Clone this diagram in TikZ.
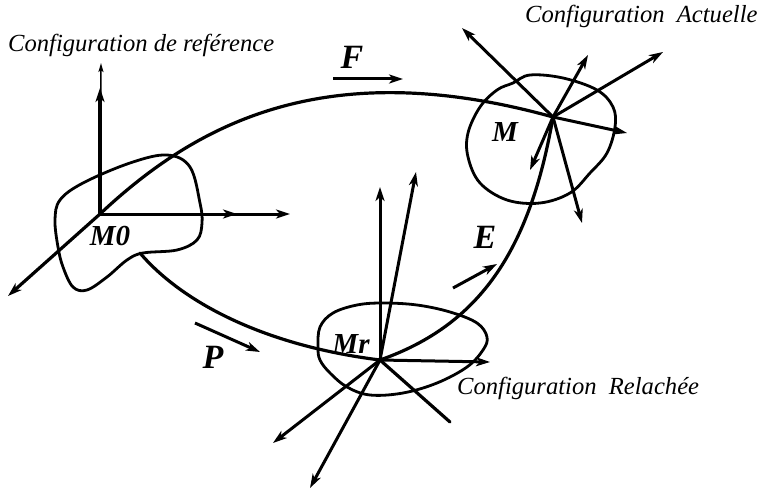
\documentclass[tikz,border=0pt]{standalone}
\usepackage{fontspec}
\setmainfont{Liberation Serif}
\usetikzlibrary{arrows.meta}
\begin{document}
\begin{tikzpicture}[x=1pt,y=-1pt,
  ln/.style={line width=3.2pt,line cap=round},
  ax/.style={line width=3pt,-{Stealth[length=14pt,width=9pt,inset=4pt]}},
  bl/.style={line width=2.8pt},
  captxt/.style={font=\fontsize{24.6}{28}\selectfont\itshape,inner sep=0pt},
  lab/.style={font=\fontsize{34}{38}\selectfont\bfseries\itshape,inner sep=0pt},
  plab/.style={font=\fontsize{29}{33}\selectfont\bfseries\itshape,inner sep=0pt}]
\useasboundingbox (0,0) rectangle (757,492);
% origins
\coordinate (O0) at (100,214);
\coordinate (Or) at (380,360);
\coordinate (O) at (553,117);
\coordinate (B0) at (140,253);
% blobs
\draw[bl] plot[smooth cycle,tension=0.6] coordinates {(143,253) (177,250) (197,240) (202,223) (200,203) (190,167) (167,155) (130,163) (83,183) (60,200) (55,220) (58,247) (63,267) (73,287) (87,290) (107,277) (127,260)};
\draw[bl] plot[smooth cycle,tension=0.6] coordinates {(530,75) (563,78) (597,90) (613,107) (615,127) (607,153) (590,173) (570,193) (540,203) (507,200) (480,183) (468,157) (468,133) (480,107) (497,90) (513,83)};
\draw[bl] plot[smooth cycle,tension=0.6] coordinates {(318,347) (320,327) (333,313) (357,305) (383,303) (417,305) (450,312) (477,323) (487,337) (483,350) (467,367) (437,383) (403,393) (370,395) (347,387) (330,373) (320,360)};
% curves
\coordinate (Ftip) at (8,296);
\draw[ln,-{Stealth[length=14pt,width=9pt,inset=4pt]}] (O0) -- (Ftip);
\draw[ln] (O0) .. controls (200,120) and (330,55) .. (O);
\draw[ln] (B0) .. controls (180,300) and (260,345) .. (Or);
\draw[ln] (Or) .. controls (480,325) and (530,250) .. (O);
% axes at O0
\coordinate (a1) at (101,63);
\coordinate (a2) at (100,88);
\coordinate (a3) at (237,214);
\coordinate (a4) at (290,214);
\draw[line width=1.6pt,-{Stealth[length=9pt,width=5pt,inset=2pt]}] (O0) -- (a1);
\draw[ax,line width=3.8pt] (O0) -- (a2);
\draw[ax] (O0) -- (a3);
\draw[ax] (O0) -- (a4);
% axes at Or
\coordinate (r1) at (380,187);
\coordinate (r2) at (416,172);
\coordinate (r3) at (490,362);
\coordinate (r4) at (450,422);
\coordinate (r5) at (273,443);
\coordinate (r6) at (310,488);
\draw[ax] (Or) -- (r1);
\draw[ax] (Or) -- (r2);
\draw[ax] (Or) -- (r3);
\draw[ln] (Or) -- (r4);
\draw[ax] (Or) -- (r5);
\draw[ax] (Or) -- (r6);
% axes at O
\coordinate (m1) at (462,28);
\coordinate (m2) at (588,55);
\coordinate (m3) at (663,52);
\coordinate (m4) at (627,133);
\coordinate (m5) at (530,170);
\coordinate (m6) at (582,223);
\draw[ax] (O) -- (m1);
\draw[ax] (O) -- (m2);
\draw[ax] (O) -- (m3);
\draw[ax] (O) -- (m4);
\draw[ax] (O) -- (m5);
\draw[ax] (O) -- (m6);
% small arrows
\coordinate (fa) at (333,79); \coordinate (fb) at (403,79);
\coordinate (ea) at (453,288); \coordinate (eb) at (497,264);
\coordinate (pa) at (195,323); \coordinate (pb) at (260,352);
\draw[ax] (fa) -- (fb);
\draw[ax] (ea) -- (eb);
\draw[ax] (pa) -- (pb);
% labels
\node[lab] (F) at (352,57) {F};
\node[lab] (E) at (485,237) {E};
\node[lab] (P) at (213,357) {P};
\node[plab] (lM0) at (110,236) {M0};
\node[plab] (lMr) at (351,344) {Mr};
\node[plab] (lM) at (505,132) {M};
\node[captxt,anchor=base west] (c1) at (8,52) {Configuration de reférence};
\node[captxt,anchor=base west] (c2) at (525,23) {Configuration\ \ Actuelle};
\node[captxt,anchor=base west] (c3) at (457,394) {Configuration\ \ Relachée};
\end{tikzpicture}
\end{document}
